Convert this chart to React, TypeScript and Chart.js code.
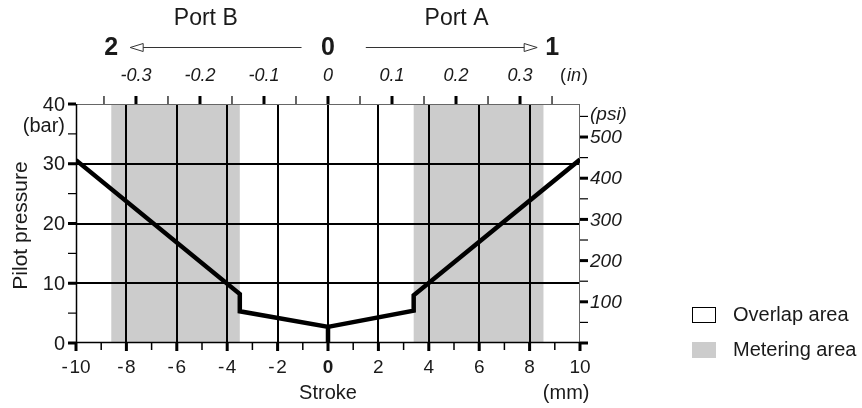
import React, { useEffect, useRef } from "react";
import { Chart, registerables } from "chart.js";

Chart.register(...registerables);

// ---- data ----
const strokeTicks = [-10, -8, -6, -4, -2, 0, 2, 4, 6, 8, 10];
const strokeMinorTicks = [-9, -7, -5, -3, -1, 1, 3, 5, 7, 9];
const gridStroke = [-8, -6, -4, -2, 0, 2, 4, 6, 8];
const pressureTicks = [0, 10, 20, 30, 40];
const pressureMinorTicks = [5, 15, 25, 35];
const gridPressure = [10, 20, 30];
const psiTicks = [100, 200, 300, 400, 500];
const psiMajorNoLabel = [0];
const psiMinorTicks = [50, 150, 250, 350, 450, 550];
const inchTicks = [-0.3, -0.2, -0.1, 0, 0.1, 0.2, 0.3];
const inchMinorTicks = [-0.35, -0.25, -0.15, -0.05, 0.05, 0.15, 0.25, 0.35];
const portBStroke = [-10, -3.5, -3.5, 0, 0];
const portBPressure = [30.6, 8.2, 5.3, 2.7, 0];
const portAStroke = [0, 3.4, 3.4, 10];
const portAPressure = [2.7, 5.4, 8.0, 30.7];
const meteringStart = [-8.6, 3.4];
const meteringEnd = [-3.5, 8.55];
const legendLabels = ["Overlap area", "Metering area"];
const PSI_PER_BAR = 14.5038;
const MM_PER_IN = 25.4;

const FONT = "'Liberation Sans', Arial, sans-serif";
const TXT = "#1a1a1a";
const GRAY = "#cccccc";

const decorPlugin = {
  id: "decor",
  beforeDatasetsDraw(chart: any) {
    const { ctx, chartArea: a } = chart;
    const x = chart.scales.x;
    const y = chart.scales.y;
    ctx.save();
    // metering bands
    ctx.fillStyle = GRAY;
    meteringStart.forEach((s, i) => {
      const x0 = x.getPixelForValue(s);
      const x1 = x.getPixelForValue(meteringEnd[i]);
      ctx.fillRect(x0, a.top, x1 - x0, a.bottom - a.top);
    });
    // grid
    ctx.strokeStyle = "#000";
    ctx.lineWidth = 2;
    gridStroke.forEach((v) => {
      const px = Math.round(x.getPixelForValue(v));
      ctx.beginPath();
      ctx.moveTo(px, a.top);
      ctx.lineTo(px, a.bottom);
      ctx.stroke();
    });
    gridPressure.forEach((v) => {
      const py = Math.round(y.getPixelForValue(v));
      ctx.beginPath();
      ctx.moveTo(a.left, py);
      ctx.lineTo(a.right, py);
      ctx.stroke();
    });
    // border
    ctx.lineWidth = 1;
    ctx.strokeStyle = "#666";
    ctx.beginPath();
    ctx.moveTo(a.left, a.top + 0.5);
    ctx.lineTo(a.right, a.top + 0.5);
    ctx.moveTo(a.right - 0.5, a.top);
    ctx.lineTo(a.right - 0.5, a.bottom);
    ctx.stroke();
    ctx.strokeStyle = "#000";
    ctx.lineWidth = 1.5;
    ctx.beginPath();
    ctx.moveTo(a.left + 0.5, a.top);
    ctx.lineTo(a.left + 0.5, a.bottom);
    ctx.moveTo(a.left, a.bottom - 0.5);
    ctx.lineTo(a.right, a.bottom - 0.5);
    ctx.stroke();
    ctx.restore();
  },
  afterDatasetsDraw(chart: any) {
    const { ctx, chartArea: a } = chart;
    const x = chart.scales.x;
    const y = chart.scales.y;
    ctx.save();
    ctx.strokeStyle = "#000";
    const tick = (x0: number, y0: number, x1: number, y1: number, w: number) => {
      ctx.lineWidth = w;
      ctx.beginPath();
      ctx.moveTo(x0, y0);
      ctx.lineTo(x1, y1);
      ctx.stroke();
    };
    const L = 8;
    // bottom ticks
    strokeTicks.forEach((v) => {
      const px = x.getPixelForValue(v);
      tick(px, a.bottom, px, a.bottom + L, 3);
    });
    strokeMinorTicks.forEach((v) => {
      const px = x.getPixelForValue(v);
      tick(px, a.bottom, px, a.bottom + L - 1, 1.5);
    });
    // left ticks
    pressureTicks.forEach((v) => {
      const py = y.getPixelForValue(v);
      tick(a.left - L, py, a.left, py, 3);
    });
    pressureMinorTicks.forEach((v) => {
      const py = y.getPixelForValue(v);
      tick(a.left - L, py, a.left, py, 1.2);
    });
    // right ticks (psi)
    [...psiMajorNoLabel, ...psiTicks].forEach((v) => {
      const py = y.getPixelForValue(v / PSI_PER_BAR);
      tick(a.right, py, a.right + L, py, 3);
    });
    psiMinorTicks.forEach((v) => {
      const py = y.getPixelForValue(v / PSI_PER_BAR);
      tick(a.right, py, a.right + L, py, 1.2);
    });
    // top ticks (inch)
    inchTicks.forEach((v) => {
      const px = x.getPixelForValue(v * MM_PER_IN);
      tick(px, a.top - L, px, a.top, 3);
    });
    inchMinorTicks.forEach((v) => {
      const px = x.getPixelForValue(v * MM_PER_IN);
      tick(px, a.top - L, px, a.top, 1.2);
    });

    ctx.fillStyle = TXT;
    ctx.textBaseline = "middle";
    // bottom labels
    ctx.textAlign = "center";
    strokeTicks.forEach((v) => {
      ctx.font = `${v === 0 ? "bold " : ""}19px ${FONT}`;
      ctx.fillText(String(v).replace("-", "-\u200a"), x.getPixelForValue(v), a.bottom + 25);
    });
    ctx.font = `20px ${FONT}`;
    ctx.fillText("Stroke", x.getPixelForValue(0), a.bottom + 50);
    ctx.fillText("(mm)", x.getPixelForValue(9.45), a.bottom + 50);
    // left labels
    ctx.textAlign = "right";
    pressureTicks.forEach((v) => {
      ctx.fillText(String(v), a.left - 11, y.getPixelForValue(v) + 1);
    });
    ctx.fillText("(bar)", a.left - 11, y.getPixelForValue(36.2));
    ctx.save();
    ctx.translate(21, (a.top + a.bottom) / 2 + 2);
    ctx.rotate(-Math.PI / 2);
    ctx.textAlign = "center";
    ctx.font = `21px ${FONT}`;
    ctx.fillText("Pilot pressure", 0, 0);
    ctx.restore();
    // right labels
    ctx.textAlign = "left";
    ctx.font = `italic 19px ${FONT}`;
    psiTicks.forEach((v) => {
      ctx.fillText(String(v), a.right + 10, y.getPixelForValue(v / PSI_PER_BAR) + 1);
    });
    ctx.fillText("(psi)", a.right + 10, y.getPixelForValue(550 / PSI_PER_BAR) - 2);
    // top labels
    ctx.textAlign = "center";
    ctx.font = `italic 18px ${FONT}`;
    inchTicks.forEach((v) => {
      ctx.fillText(String(v), x.getPixelForValue(v * MM_PER_IN), a.top - 28);
    });
    {
      const px = x.getPixelForValue(0.372 * MM_PER_IN) - 6;
      ctx.textAlign = "left";
      ctx.font = `18px ${FONT}`;
      ctx.fillText("(", px, a.top - 28);
      let w = ctx.measureText("(").width + 1;
      ctx.font = `italic 18px ${FONT}`;
      ctx.fillText("in", px + w, a.top - 28);
      w += ctx.measureText("in").width + 1;
      ctx.font = `18px ${FONT}`;
      ctx.fillText(")", px + w, a.top - 28);
    }
    // port annotation
    const yArrow = 47;
    ctx.textAlign = "center";
    ctx.font = `bold 25px ${FONT}`;
    ctx.fillText("2", x.getPixelForValue(-8.6), yArrow + 1);
    ctx.fillText("0", x.getPixelForValue(0), yArrow + 1);
    ctx.fillText("1", x.getPixelForValue(8.9), yArrow + 1);
    ctx.font = `23px ${FONT}`;
    ctx.fillText("Port B", x.getPixelForValue(-4.85), 19);
    ctx.fillText("Port A", x.getPixelForValue(5.1), 19);
    ctx.strokeStyle = "#333";
    ctx.lineWidth = 1;
    const arrow = (from: number, tip: number) => {
      const dir = Math.sign(tip - from);
      const base = tip - dir * 13;
      ctx.beginPath();
      ctx.moveTo(from, yArrow + 0.5);
      ctx.lineTo(base, yArrow + 0.5);
      ctx.stroke();
      ctx.beginPath();
      ctx.moveTo(tip, yArrow + 0.5);
      ctx.lineTo(base, yArrow - 3.5);
      ctx.lineTo(base, yArrow + 4.5);
      ctx.closePath();
      ctx.stroke();
    };
    arrow(x.getPixelForValue(-1.05), x.getPixelForValue(-7.85));
    arrow(x.getPixelForValue(1.5), x.getPixelForValue(8.3));
    // legend
    const lx = 692;
    ctx.fillStyle = "#fff";
    ctx.fillRect(lx, 307, 24, 16);
    ctx.strokeStyle = "#000";
    ctx.lineWidth = 1;
    ctx.strokeRect(lx + 0.5, 307.5, 23, 15);
    ctx.fillStyle = GRAY;
    ctx.fillRect(lx, 342, 24, 16);
    ctx.fillStyle = TXT;
    ctx.textAlign = "left";
    ctx.font = `20px ${FONT}`;
    ctx.fillText(legendLabels[0], 733, 315);
    ctx.fillText(legendLabels[1], 733, 350);
    ctx.restore();
  },
};

export default function App() {
  const ref = useRef<HTMLCanvasElement | null>(null);
  useEffect(() => {
    if (!ref.current) return;
    const chart = new Chart(ref.current, {
      type: "scatter",
      data: {
        datasets: [
          {
            data: portBStroke.map((v, i) => ({ x: v, y: portBPressure[i] })),
            showLine: true,
            borderColor: "#000",
            borderWidth: 4.5,
            pointRadius: 0,
            borderJoinStyle: "miter",
          } as any,
          {
            data: portAStroke.map((v, i) => ({ x: v, y: portAPressure[i] })),
            showLine: true,
            borderColor: "#000",
            borderWidth: 4.5,
            pointRadius: 0,
            borderJoinStyle: "miter",
          } as any,
        ],
      },
      options: {
        animation: false,
        responsive: false,
        maintainAspectRatio: false,
        layout: { padding: { left: 76, right: 282, top: 104, bottom: 65 } },
        plugins: { legend: { display: false }, tooltip: { enabled: false } },
        scales: {
          x: { type: "linear", min: -10, max: 10, display: false },
          y: { type: "linear", min: 0, max: 40, display: false },
        },
      },
      plugins: [decorPlugin],
    });
    return () => chart.destroy();
  }, []);
  return (
    <div style={{ position: "fixed", left: 0, top: 0, width: 862, height: 408, background: "#fff" }}>
      <canvas ref={ref} width={862} height={408} style={{ width: 862, height: 408 }} />
    </div>
  );
}
